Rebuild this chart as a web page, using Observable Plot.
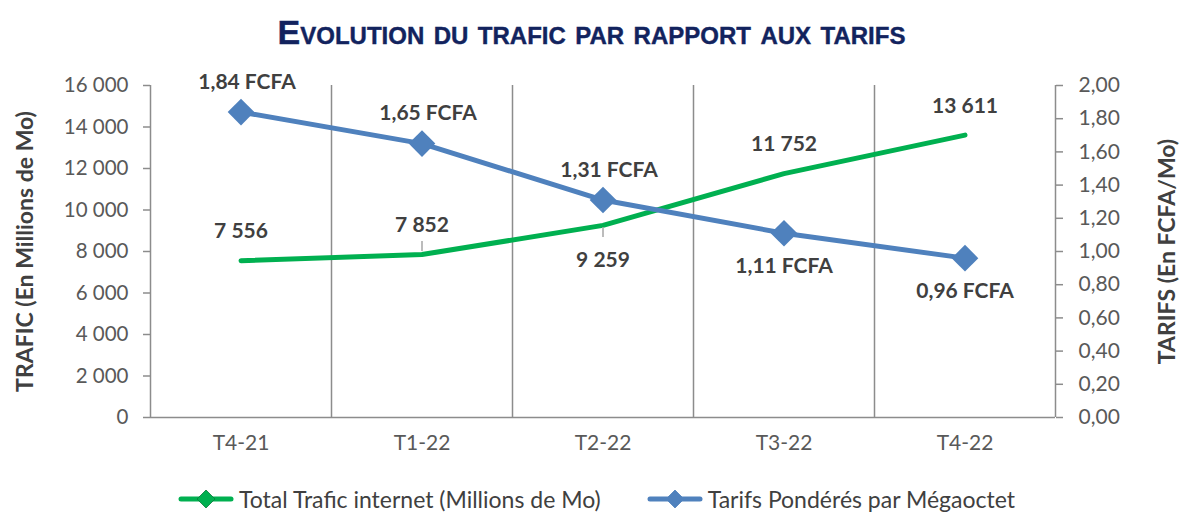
<!DOCTYPE html>
<html><head><meta charset="utf-8">
<script src="https://cdn.jsdelivr.net/npm/d3@7"></script>
<script src="https://cdn.jsdelivr.net/npm/@observablehq/plot@0.6"></script>
<style>
body{margin:0;background:#fff;font-family:Lato,"Open Sans",sans-serif;width:1183px;height:515px;overflow:hidden;}
#title{height:62px;display:flex;align-items:center;justify-content:center;font-family:"Liberation Sans Narrow","Liberation Sans",sans-serif;font-weight:bold;font-variant:small-caps;font-size:34px;color:#12235e;padding-top:2px;box-sizing:border-box;-webkit-text-stroke:0.4px #12235e;}
#chart{height:420px;}
#legend{height:33px;display:flex;align-items:center;justify-content:center;gap:46px;font-size:23px;color:#404040;padding-left:10px;box-sizing:border-box;}
.item{display:flex;align-items:center;gap:5px;}
</style></head><body>
<div id="title">Evolution du trafic par rapport aux tarifs</div>
<div id="chart"></div>
<div id="legend"></div>
<script>
const categories = ["T4-21", "T1-22", "T2-22", "T3-22", "T4-22"];
const trafic = [7556, 7852, 9259, 11752, 13611];
const tarifs = [1.84, 1.65, 1.31, 1.11, 0.96];
const traficTicks = [0, 2000, 4000, 6000, 8000, 10000, 12000, 14000, 16000];
const tarifTicks = [0, 0.2, 0.4, 0.6, 0.8, 1.0, 1.2, 1.4, 1.6, 1.8, 2.0];
const seriesNames = ["Total Trafic internet (Millions de Mo)", "Tarifs Pondérés par Mégaoctet"];
const axisTitles = ["TRAFIC (En Millions de Mo)", "TARIFS (En FCFA/Mo)"];

const GREEN = "#00b050", BLUE = "#4f81bd", GRID = "#8c8c8c", TXT = "#404040", TICK = "#595959";
const n = categories.length;
const yMax = traficTicks[traficTicks.length - 1];
const tMax = tarifTicks[tarifTicks.length - 1];
const k = yMax / tMax;
const rows = categories.map((c, i) => ({i, c, trafic: trafic[i], tarif: tarifs[i], tarifY: tarifs[i] * k}));
const fr = d3.formatLocale({decimal: ",", thousands: "\u00a0", grouping: [3], currency: ["", ""]});
const fmtInt = fr.format(",d");
const fmt2 = fr.format(".2f");
const H = 420, mT = 23, mB = 65;
const upp = yMax / (H - mT - mB);

const labelStyle = {fill: TXT, fontWeight: "bold", fontSize: 21, fontFamily: "Lato, sans-serif"};
const titleStyle = {fill: TXT, fontWeight: "bold", fontSize: 23, fontFamily: "Lato, sans-serif", textAnchor: "middle", rotate: -90};

const chart = Plot.plot({
  width: 1183, height: H,
  marginLeft: 150, marginRight: 128, marginTop: mT, marginBottom: mB,
  x: {type: "linear", domain: [-0.5, n - 0.5]},
  y: {domain: [0, yMax]},
  style: {fontFamily: "Lato, sans-serif", fontSize: "21px", color: TICK, background: "white", overflow: "visible"},
  marks: [
    Plot.ruleX(d3.range(n + 1).map(i => i - 0.5), {stroke: GRID, strokeWidth: 1.5}),
    Plot.ruleY([0], {stroke: GRID, strokeWidth: 1.5}),
    Plot.axisY({anchor: "left", ticks: traficTicks, tickFormat: fmtInt, tickSize: 7, tickPadding: 15, stroke: GRID, strokeWidth: 1.5, label: null, fill: TICK, fontSize: 20.5}),
    Plot.axisY({anchor: "right", ticks: tarifTicks.map(t => t * k), tickFormat: d => fmt2(d / k), tickSize: 7, tickPadding: 16, stroke: GRID, strokeWidth: 1.5, label: null, fill: TICK, fontSize: 21}),
    Plot.axisX({anchor: "bottom", ticks: d3.range(n), tickFormat: i => categories[i], tickSize: 0, tickPadding: 18, label: null, fill: TICK, fontSize: 21}),
    Plot.text([axisTitles[0]], {frameAnchor: "left", dx: -125, ...titleStyle}),
    Plot.text([axisTitles[1]], {frameAnchor: "right", dx: 112, ...titleStyle}),
    Plot.line(rows, {x: "i", y: "trafic", stroke: GREEN, strokeWidth: 5, strokeLinecap: "round", strokeLinejoin: "round"}),
    Plot.line(rows, {x: "i", y: "tarifY", stroke: BLUE, strokeWidth: 5, strokeLinejoin: "round"}),
    Plot.dot(rows, {x: "i", y: "tarifY", symbol: "diamond2", r: 12, fill: BLUE, stroke: "none"}),
    // leader lines
    Plot.ruleX(rows, {filter: d => d.i === 1, x: "i", y1: d => d.trafic + 3 * upp, y2: d => d.trafic + 13 * upp, stroke: "#a6a6a6", strokeWidth: 1.5}),
    Plot.ruleX(rows, {filter: d => d.i === 2, x: "i", y1: d => d.trafic - 2 * upp, y2: d => d.trafic - 12 * upp, stroke: "#a6a6a6", strokeWidth: 1.5}),
    // traffic labels
    Plot.text(rows, {filter: d => d.i !== 2, x: "i", y: "trafic", text: d => fmtInt(d.trafic), dy: -29, ...labelStyle}),
    Plot.text(rows, {filter: d => d.i === 2, x: "i", y: "trafic", text: d => fmtInt(d.trafic), dy: 35, ...labelStyle}),
    // tariff labels
    Plot.text(rows, {filter: d => d.i < 3, x: "i", y: "tarifY", text: d => fmt2(d.tarif) + " FCFA", dy: -30, dx: 6, ...labelStyle}),
    Plot.text(rows, {filter: d => d.i >= 3, x: "i", y: "tarifY", text: d => fmt2(d.tarif) + " FCFA", dy: 33, ...labelStyle})
  ]
});
document.getElementById("chart").appendChild(chart);

const legend = document.getElementById("legend");
[[seriesNames[0], GREEN, "#0a7a3a"], [seriesNames[1], BLUE, BLUE]].forEach(([name, col, dark]) => {
  const it = document.createElement("div");
  it.className = "item";
  it.innerHTML = `<svg width="56" height="22"><line x1="3" x2="53" y1="11" y2="11" stroke="${col}" stroke-width="5" stroke-linecap="round"/><path d="M28,2 L37,11 L28,20 L19,11 Z" fill="${col}" stroke="${dark}" stroke-width="0.8"/></svg><span>${name}</span>`;
  legend.appendChild(it);
});
</script>
</body></html>
